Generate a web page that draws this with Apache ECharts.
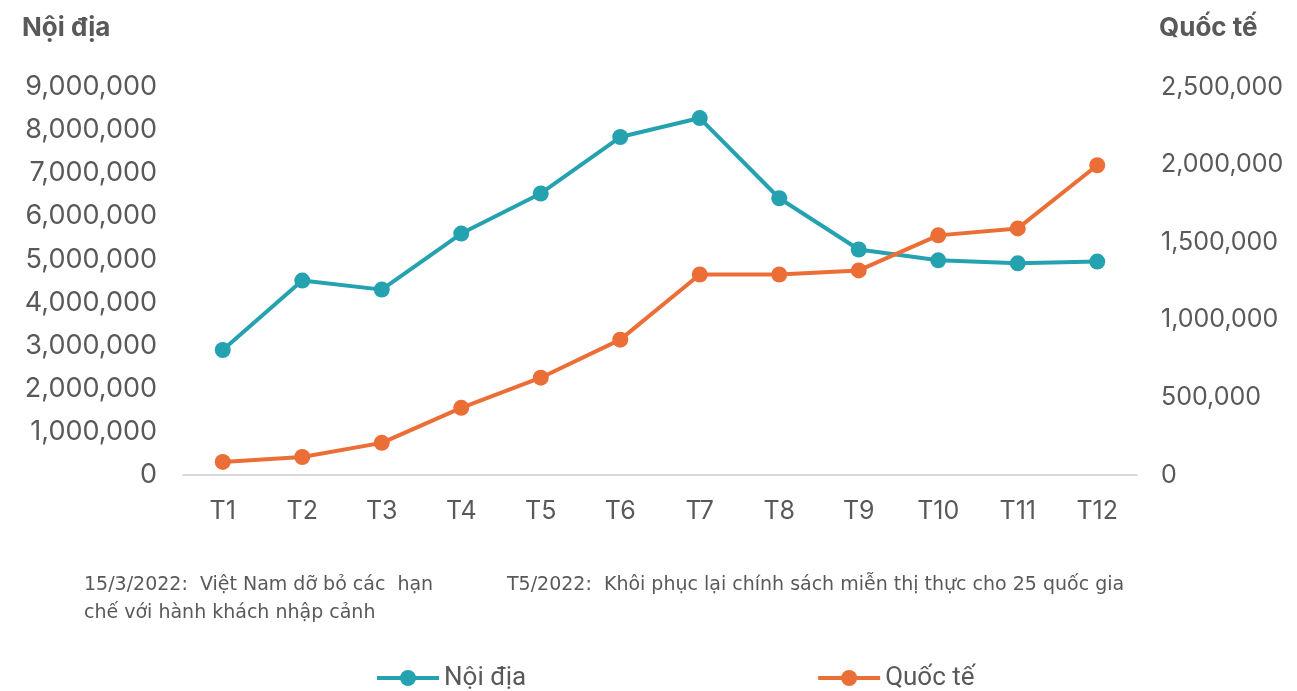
<!DOCTYPE html>
<html>
<head>
<meta charset="utf-8">
<script src="https://cdn.jsdelivr.net/npm/echarts@6/dist/echarts.min.js"></script>
<style>
  html, body { margin: 0; padding: 0; background: #fff; }
  #chart { width: 1297px; height: 691px; }
</style>
</head>
<body>
<div id="chart"></div>
<script>
var months = ["T1", "T2", "T3", "T4", "T5", "T6", "T7", "T8", "T9", "T10", "T11", "T12"];
var noiDia = [2900000, 4510000, 4300000, 5600000, 6530000, 7840000, 8280000, 6420000, 5230000, 4980000, 4910000, 4950000];
var quocTe = [84000, 116000, 207000, 433000, 627000, 872000, 1292000, 1292000, 1318000, 1544000, 1589000, 1996000];
var note1 = ["15/3/2022:  Việt Nam dỡ bỏ các  hạn", "chế với hành khách nhập cảnh"];
var note2 = "T5/2022:  Khôi phục lại chính sách miễn thị thực cho 25 quốc gia";

var textGray = "#595959";
var fontMain = "Inter, Roboto, sans-serif";

var chart = echarts.init(document.getElementById("chart"));
chart.setOption({
  backgroundColor: "#fff",
  animation: false,
  grid: { left: 183, right: 160, top: 87, bottom: 216 },
  legend: {
    left: 370,
    top: 660,
    itemGap: 290,
    itemWidth: 62,
    itemHeight: 20,
    lineStyle: { width: 4 },
    textStyle: { fontSize: 26, color: textGray, fontFamily: "Roboto, sans-serif" },
    data: ["Nội địa", "Quốc tế"]
  },
  xAxis: {
    type: "category",
    data: months,
    boundaryGap: true,
    axisLine: { lineStyle: { color: "#d9d9d9", width: 2 } },
    axisTick: { show: false },
    axisLabel: { color: textGray, fontSize: 25, fontFamily: fontMain, margin: 24 }
  },
  yAxis: [
    {
      type: "value",
      min: 0, max: 9000000, interval: 1000000,
      splitLine: { show: false },
      axisLine: { show: false },
      axisTick: { show: false },
      axisLabel: {
        color: textGray, fontSize: 27, fontFamily: fontMain, margin: 26,
        formatter: function (v) { return v.toLocaleString("en-US"); }
      }
    },
    {
      type: "value",
      min: 0, max: 2500000, interval: 500000,
      splitLine: { show: false },
      axisLine: { show: false },
      axisTick: { show: false },
      axisLabel: {
        color: textGray, fontSize: 25, fontFamily: fontMain, margin: 24,
        formatter: function (v) { return v.toLocaleString("en-US"); }
      }
    }
  ],
  series: [
    {
      name: "Nội địa",
      type: "line",
      yAxisIndex: 0,
      data: noiDia,
      symbol: "circle",
      symbolSize: 16,
      lineStyle: { width: 4, color: "#25a2b0" },
      itemStyle: { color: "#25a2b0" }
    },
    {
      name: "Quốc tế",
      type: "line",
      yAxisIndex: 1,
      data: quocTe,
      symbol: "circle",
      symbolSize: 16,
      lineStyle: { width: 4, color: "#ec6e37" },
      itemStyle: { color: "#ec6e37" }
    }
  ],
  graphic: [
    {
      type: "text", left: 22, top: 15,
      style: { text: "Nội địa", fill: textGray, font: "bold 26px " + fontMain }
    },
    {
      type: "text", left: 1159, top: 15,
      style: { text: "Quốc tế", fill: textGray, font: "bold 26px " + fontMain }
    },
    {
      type: "text", left: 84, top: 571,
      style: { text: note1.join("\n"), lineHeight: 28, fill: textGray, font: "19px 'DejaVu Sans', sans-serif" }
    },
    {
      type: "text", left: 507, top: 571,
      style: { text: note2, lineHeight: 28, fill: textGray, font: "19px 'DejaVu Sans', sans-serif" }
    }
  ]
});
</script>
</body>
</html>
